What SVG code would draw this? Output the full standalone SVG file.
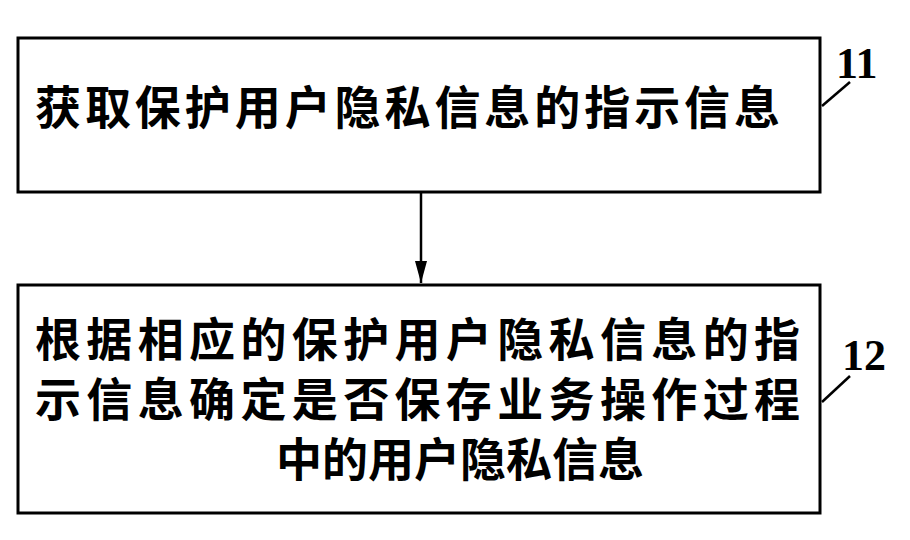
<svg xmlns="http://www.w3.org/2000/svg" width="910" height="540" viewBox="0 0 910 540">
<style>
.box{fill:#fff;stroke:#000;stroke-width:3}
.t{font-family:"Noto Sans CJK SC",sans-serif;font-weight:bold;font-size:46px;fill:#000}
.n{font-family:"Liberation Serif",serif;font-weight:bold;font-size:44px;fill:#000}
.l{stroke:#000;stroke-width:2.5;fill:none}
</style>
<defs><marker id="a" markerWidth="22" markerHeight="12" refX="22" refY="6" orient="auto" markerUnits="userSpaceOnUse" viewBox="0 0 22 12"><path d="M0,0L22,6L0,12z" fill="#000"/></marker></defs>
<rect width="910" height="540" fill="#fff"/>
<g id="n11"><rect class="box" x="18" y="38" width="802" height="154"/>
<text class="t" x="35" y="124" textLength="745">获取保护用户隐私信息的指示信息</text>
<text class="n" x="836" y="78">11</text></g>
<g id="n12"><rect class="box" x="18" y="285" width="802" height="228"/>
<text class="t" x="35" y="356" textLength="765">根据相应的保护用户隐私信息的指</text>
<text class="t" x="35" y="416" textLength="765">示信息确定是否保存业务操作过程</text>
<text class="t" x="276" y="476">中的用户隐私信息</text>
<text class="n" x="842" y="370">12</text></g>
<g id="connectors">
<line class="l" x1="421" y1="192" x2="421" y2="283" marker-end="url(#a)"/>
<line class="l" x1="822" y1="106" x2="850" y2="82"/>
<line class="l" x1="822" y1="402" x2="850" y2="376"/>
</g>
</svg>
